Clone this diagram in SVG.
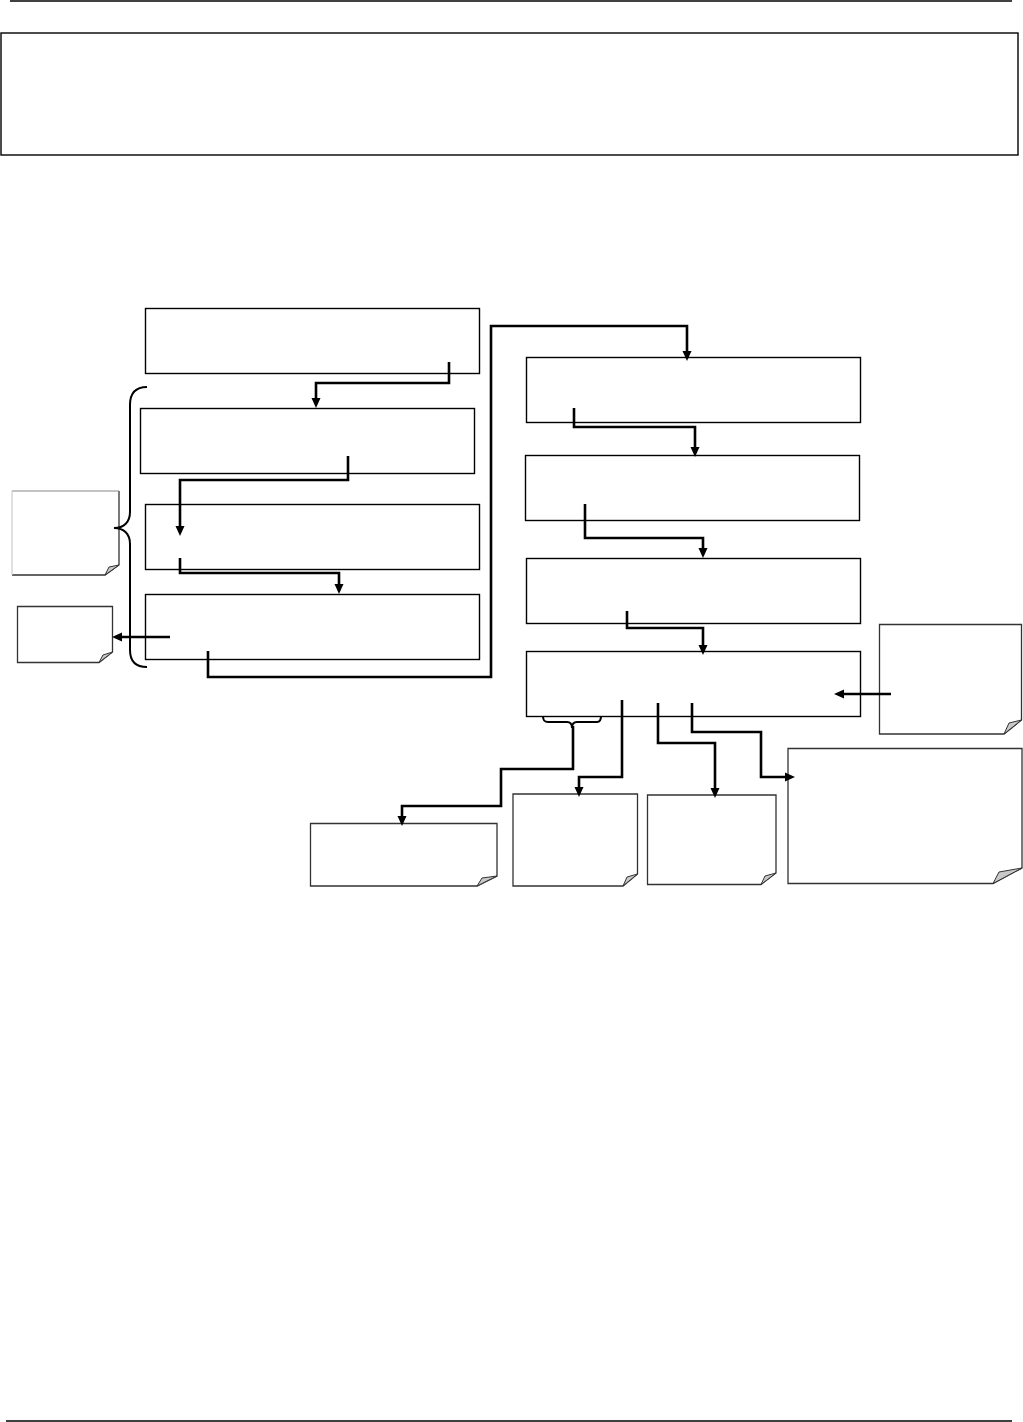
<svg xmlns="http://www.w3.org/2000/svg" width="1023" height="1422" viewBox="0 0 1023 1422">
<style>
.box{fill:#fff;stroke:#000;stroke-width:1.4}
.note{fill:#fff;stroke:#333;stroke-width:1.3;stroke-linejoin:miter}
.fold{fill:#c8c8c8;stroke:#333;stroke-width:1}
.conn{fill:none;stroke:#000;stroke-width:2.6;stroke-linejoin:miter}
.brace{fill:none;stroke:#000;stroke-width:2}
.rule{stroke:#000;stroke-width:1.6}
</style>
<defs>
<marker id="ah" markerUnits="userSpaceOnUse" markerWidth="11" markerHeight="10" refX="3" refY="5" orient="auto">
<path d="M0,0.5 L10,5 L0,9.5 Z" fill="#000"/>
</marker>
</defs>
<rect width="1023" height="1422" fill="#fff"/>
<line class="rule" x1="10" y1="1" x2="1012" y2="1"/>
<line class="rule" x1="6" y1="1421" x2="1012" y2="1421"/>
<rect id="header" class="box" x="1" y="33" width="1017" height="122"/>

<g id="nodeA"><rect class="box" x="145.5" y="308.5" width="334" height="65"/></g>
<g id="nodeB"><rect class="box" x="140.5" y="408.5" width="334" height="65"/></g>
<g id="nodeC"><rect class="box" x="145.5" y="504.5" width="334" height="65"/></g>
<g id="nodeD"><rect class="box" x="145.5" y="594.5" width="334" height="65"/></g>
<g id="nodeE"><rect class="box" x="526.5" y="357.5" width="334" height="65"/></g>
<g id="nodeF"><rect class="box" x="525.5" y="455.5" width="334" height="65"/></g>
<g id="nodeG"><rect class="box" x="526.5" y="558.5" width="334" height="65"/></g>
<g id="nodeH"><rect class="box" x="526.5" y="651.5" width="334" height="65"/></g>

<g id="note1">
<path class="note" d="M119,491 V565 L105,575 H12" />
<line x1="12" y1="491" x2="119" y2="491" stroke="#888" stroke-width="1.2"/>
<line x1="12" y1="491" x2="12" y2="575" stroke="#ccc" stroke-width="1.2"/>
<path class="fold" d="M105,575 L119,565 L109,567 Z"/>
</g>
<g id="note2">
<path class="note" d="M17.5,606.5 H112.5 V652 L99,662.5 H17.5 Z"/>
<path class="fold" d="M99,662.5 L112.5,652 L103,655 Z"/>
</g>
<g id="noteR">
<path class="note" d="M879.5,624.5 H1021.5 V720 L1004,734 H879.5 Z"/>
<path class="fold" d="M1004,734 L1021.5,720 L1009,723 Z"/>
</g>
<g id="noteB1">
<path class="note" d="M310.5,823.5 H497 V876 L477,886 H310.5 Z"/>
<path class="fold" d="M477,886 L497,876 L482,878 Z"/>
</g>
<g id="noteB2">
<path class="note" d="M513,794 H637.5 V874 L623,886 H513 Z"/>
<path class="fold" d="M623,886 L637.5,874 L627,877 Z"/>
</g>
<g id="noteB3">
<path class="note" d="M647.5,795 H776 V873 L761,884.5 H647.5 Z"/>
<path class="fold" d="M761,884.5 L776,873 L765,876 Z"/>
</g>
<g id="noteB4">
<path class="note" d="M788,748.5 H1022 V868 L993,883.5 H788 Z"/>
<path class="fold" d="M993,883.5 L1022,868 L999,872 Z"/>
</g>

<g id="braces">
<path class="brace" d="M147,387 C136,387 130,393 130,405 V512 C130,522 124,528 114,528 C124,528 130,534 130,544 V650 C130,661 136,667 147,667"/>
<path class="brace" d="M543,716 C543,720 544,722 548,722 H567 C570,722 572,724 572,728 C572,724 574,722 577,722 H597 C600,722 601,720 601,716" stroke-width="1.6"/>
</g>

<g id="connectors">
<path class="conn" d="M449,362 V383 H316 V401" marker-end="url(#ah)"/>
<path class="conn" d="M348,456 V480 H180 V529" marker-end="url(#ah)"/>
<path class="conn" d="M180,558 V573 H339 V587" marker-end="url(#ah)"/>
<path class="conn" d="M170,637 H119" marker-end="url(#ah)"/>
<path class="conn" d="M208,651 V677 H491 V326 H687 V354" marker-end="url(#ah)"/>
<path class="conn" d="M574,408 V427 H695 V450" marker-end="url(#ah)"/>
<path class="conn" d="M585,504 V538 H703 V551" marker-end="url(#ah)"/>
<path class="conn" d="M627,611 V628 H703 V648" marker-end="url(#ah)"/>
<path class="conn" d="M891,694 H841" marker-end="url(#ah)"/>
<path class="conn" d="M573,726 V769 H501 V806 H402 V819" marker-end="url(#ah)"/>
<path class="conn" d="M622,700 V777 H579 V790" marker-end="url(#ah)"/>
<path class="conn" d="M658,703 V743 H715 V791" marker-end="url(#ah)"/>
<path class="conn" d="M692,703 V732 H761 V777 H788" marker-end="url(#ah)"/>
</g>
</svg>
